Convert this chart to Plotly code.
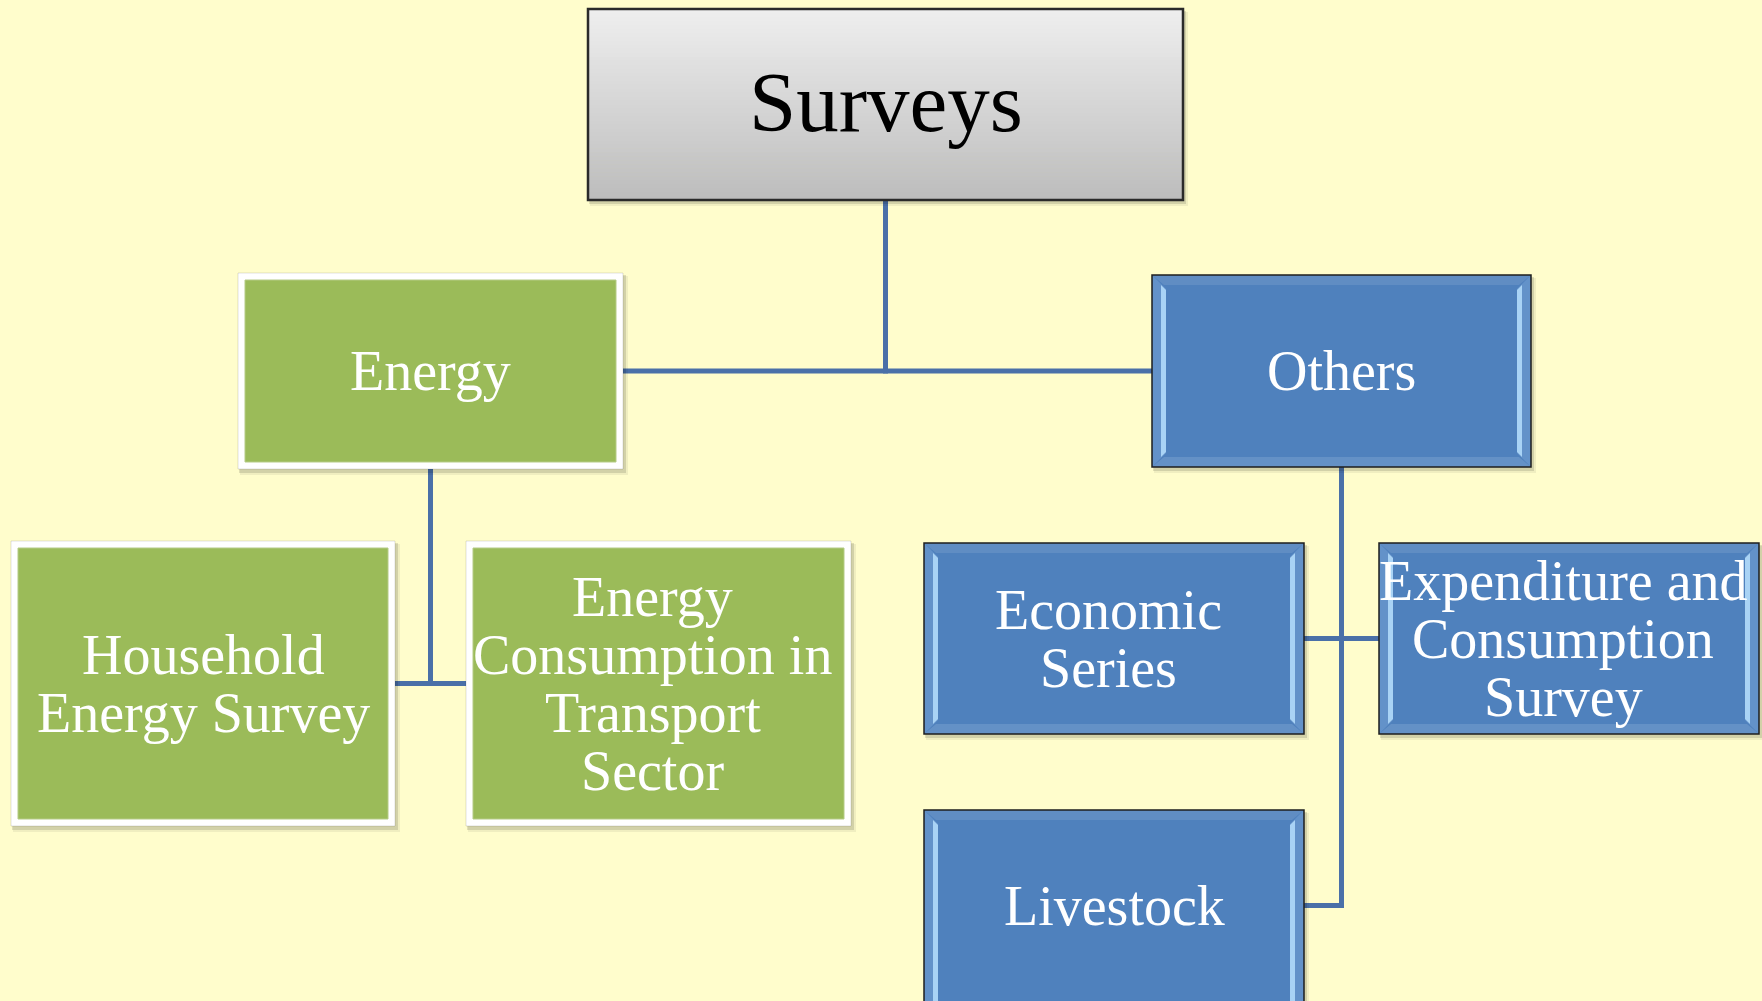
import plotly.graph_objects as go

# ---------------- data ----------------
node_ids = ["surveys", "energy", "others", "household", "transport",
            "economic", "expenditure", "livestock"]
node_labels = ["Surveys", "Energy", "Others",
               "Household<br>Energy Survey",
               "Energy<br>Consumption in<br>Transport<br>Sector",
               "Economic<br>Series",
               "Expenditure and<br>Consumption<br>Survey",
               "Livestock"]
node_parents = ["", "surveys", "surveys", "energy", "energy",
                "others", "others", "others"]
node_groups = ["root", "energy", "others", "energy", "energy",
               "others", "others", "others"]

# ---------------- layout (pixel boxes: x0, y0, x1, y1) ----------------
W, H = 1762, 1001
box_pos = {
    "surveys": (588, 9, 1183, 200),
    "energy": (238, 273, 623, 469),
    "others": (1152, 275, 1531, 467),
    "household": (11, 541, 395, 826),
    "transport": (466, 541, 851, 826),
    "economic": (924, 543, 1304, 734),
    "expenditure": (1379, 543, 1759, 734),
    "livestock": (924, 810, 1304, 1001),   # runs past the bottom edge
}
text_dx = {"expenditure": -6, "transport": -6, "economic": -6}

BG = "#FFFDCC"
GREEN = "#9BBB59"
BLUE = "#4F81BD"
LINE = "#4A70A8"
FONT = "Liberation Serif, Times New Roman, serif"

shapes = []
annotations = []


def rect(x0, y0, x1, y1, fill, line_color=None, line_width=0):
    d = dict(type="rect", xref="x", yref="y", x0=x0, y0=y0, x1=x1, y1=y1,
             fillcolor=fill, layer="above")
    if line_color:
        d["line"] = dict(color=line_color, width=line_width)
    else:
        d["line"] = dict(width=0)
    return d


def path(pts, fill):
    p = "M " + " L ".join(f"{x},{y}" for x, y in pts) + " Z"
    return dict(type="path", xref="x", yref="y", path=p, fillcolor=fill,
                line=dict(width=0), layer="above")


def mix(c1, c2, t):
    a = [int(c1[i:i + 2], 16) for i in (1, 3, 5)]
    b = [int(c2[i:i + 2], 16) for i in (1, 3, 5)]
    return "#" + "".join(f"{round(a[k] + (b[k] - a[k]) * t):02x}" for k in range(3))


# ---------------- connectors ----------------
children = {}
for nid, par in zip(node_ids, node_parents):
    if par:
        children.setdefault(par, []).append(nid)

for par, kids in children.items():
    px0, py0, px1, py1 = box_pos[par]
    pcx = (px0 + px1) / 2
    mids = [(box_pos[k][1] + box_pos[k][3]) / 2 for k in kids]
    shapes.append(dict(type="line", xref="x", yref="y", x0=pcx, y0=py1,
                       x1=pcx, y1=max(mids) + 2.5,
                       line=dict(color=LINE, width=5), layer="above"))
    for k, my in zip(kids, mids):
        kx0, ky0, kx1, ky1 = box_pos[k]
        edge = kx1 if (kx0 + kx1) / 2 < pcx else kx0
        shapes.append(dict(type="line", xref="x", yref="y", x0=pcx, y0=my,
                           x1=edge, y1=my,
                           line=dict(color=LINE, width=5), layer="above"))

# ---------------- boxes ----------------
for nid, grp in zip(node_ids, node_groups):
    x0, y0, x1, y1 = box_pos[nid]
    if y1 >= H:
        y1 = H + 25
    # soft drop shadow
    shapes.append(rect(x0 + 2, y0 + 3, x1 + 5, y1 + 6, "rgba(0,0,0,0.06)"))
    shapes.append(rect(x0 + 1, y0 + 2, x1 + 3, y1 + 4, "rgba(0,0,0,0.12)"))
    if grp == "root":
        n = 48
        for i in range(n):
            ya = y0 + (y1 - y0) * i / n
            yb = y0 + (y1 - y0) * (i + 1) / n + 0.6
            shapes.append(rect(x0, ya, x1, yb, mix("#EEEEEE", "#BDBDBD", i / (n - 1))))
        shapes.append(dict(type="rect", xref="x", yref="y", x0=x0, y0=y0,
                           x1=x1, y1=y1, line=dict(color="#2A2A2A", width=2.5),
                           fillcolor="rgba(0,0,0,0)", layer="above"))
    elif grp == "energy":
        shapes.append(rect(x0, y0, x1, y1, "#FFFFFF", "rgba(0,0,0,0.12)", 1))
        shapes.append(rect(x0 + 7, y0 + 7, x1 - 7, y1 - 7, GREEN, "#B5CB86", 1))
    else:
        shapes.append(rect(x0, y0, x1, y1, BLUE))
        # top / bottom bevel
        shapes.append(path([(x0, y0), (x1, y0), (x1 - 12, y0 + 10),
                            (x0 + 12, y0 + 10)], "rgba(255,255,255,0.10)"))
        shapes.append(path([(x0, y1), (x1, y1), (x1 - 12, y1 - 10),
                            (x0 + 12, y1 - 10)], "rgba(200,220,240,0.18)"))
        # side bevels
        shapes.append(path([(x0, y0), (x0 + 14, y0 + 14), (x0 + 14, y1 - 14),
                            (x0, y1)], "rgba(160,200,240,0.25)"))
        shapes.append(path([(x1, y0), (x1 - 14, y0 + 14), (x1 - 14, y1 - 14),
                            (x1, y1)], "rgba(160,200,240,0.25)"))
        shapes.append(path([(x0 + 9, y0 + 10), (x0 + 14, y0 + 15), (x0 + 14, y1 - 15),
                            (x0 + 9, y1 - 10)], "#A9D3F5"))
        shapes.append(path([(x1 - 9, y0 + 10), (x1 - 14, y0 + 15), (x1 - 14, y1 - 15),
                            (x1 - 9, y1 - 10)], "#A9D3F5"))
        shapes.append(dict(type="rect", xref="x", yref="y", x0=x0, y0=y0,
                           x1=x1, y1=y1, line=dict(color="#1E1E1E", width=1.5),
                           fillcolor="rgba(0,0,0,0)", layer="above"))

# ---------------- text ----------------
for nid, lab, grp in zip(node_ids, node_labels, node_groups):
    x0, y0, x1, y1 = box_pos[nid]
    cy = (y0 + y1) / 2
    cx = (x0 + x1) / 2 + text_dx.get(nid, 0)
    lines = lab.split("<br>")
    nl = len(lines)
    size = 85 if grp == "root" else 56
    spacing = 58
    color = "#000000" if grp == "root" else "#FFFFFF"
    if grp == "root":
        cy -= 3
    for i, t in enumerate(lines):
        yy = cy + (i - (nl - 1) / 2) * spacing
        annotations.append(dict(x=cx, y=yy, xref="x", yref="y", text=t,
                                showarrow=False, xanchor="center", yanchor="middle",
                                font=dict(family=FONT, size=size, color=color)))

fig = go.Figure()
fig.add_trace(go.Scatter(x=[0, W], y=[0, H], mode="markers",
                         marker=dict(opacity=0), hoverinfo="skip", showlegend=False))
fig.update_layout(
    width=W, height=H, margin=dict(l=0, r=0, t=0, b=0),
    paper_bgcolor=BG, plot_bgcolor=BG,
    xaxis=dict(range=[0, W], visible=False, fixedrange=True),
    yaxis=dict(range=[H, 0], visible=False, fixedrange=True),
    shapes=shapes, annotations=annotations, showlegend=False,
)
fig.write_html(
    "out.html",
    config={"displayModeBar": False},
    post_script=("document.body.style.margin='0';"
                 "document.body.style.overflow='hidden';"
                 f"document.body.style.background='{BG}';"),
)
